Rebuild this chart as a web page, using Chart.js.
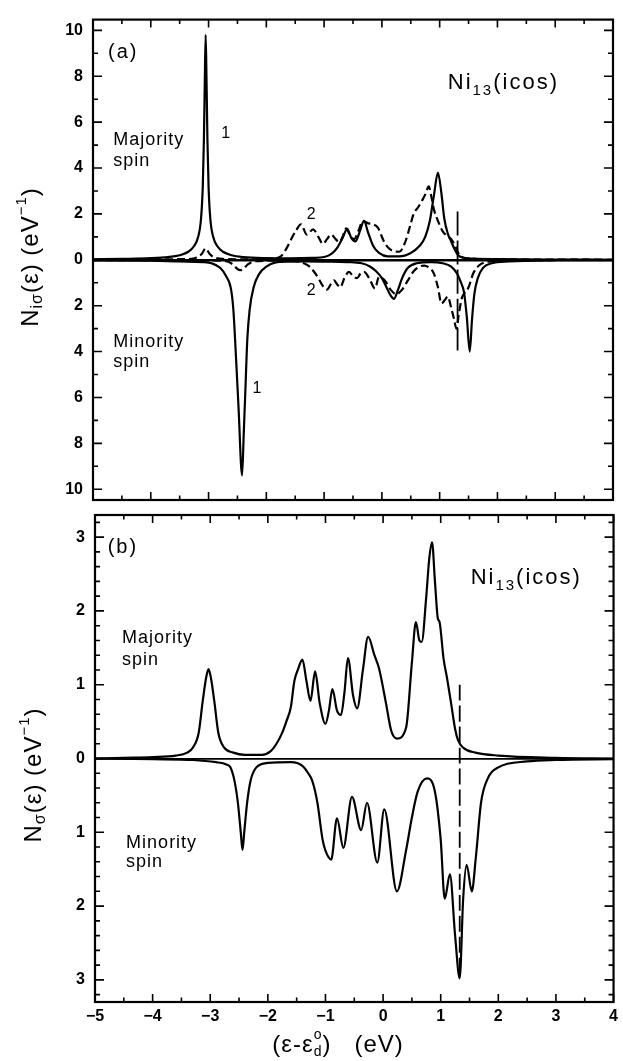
<!DOCTYPE html>
<html>
<head>
<meta charset="utf-8">
<title>Ni13 (icos) local density of states</title>
<script src="https://cdn.jsdelivr.net/npm/chart.js@4.4.1/dist/chart.umd.min.js"></script>
<style>
  html, body { margin: 0; padding: 0; background: #fff; }
  #wrap { position: relative; width: 623px; height: 1061px; }
  #wrap canvas { position: absolute; left: 0; top: 0; }
</style>
</head>
<body>
<div id="wrap">
  <canvas id="chartA" width="623" height="1061"></canvas>
  <canvas id="chartB" width="623" height="1061"></canvas>
</div>
<script>
const FONT = '"Liberation Sans", Arial, Helvetica, sans-serif';

// Energy axis (eV), shared by both panels
const energyMin = -5;
const energyMax = 4;
const energyLabels = [-5, -4, -3, -2, -1, 0, 1, 2, 3, 4];

// Tick labels on the DOS axes (shown as magnitudes)
const yLabelsA = [-10, -8, -6, -4, -2, 0, 2, 4, 6, 8, 10];
const yLabelsB = [-3, -2, -1, 0, 1, 2, 3];

// Panel (a), majority spin, curve 1 (solid)
const aMaj1E = [-5.0, -4.5, -4.0, -3.7, -3.5, -3.35, -3.25, -3.18, -3.13, -3.10, -3.08, -3.065, -3.05, -3.035, -3.02, -3.0, -2.97, -2.92, -2.85, -2.75, -2.6, -2.4, -2.0, -1.6, -1.2, -1.0, -0.88, -0.78, -0.68, -0.6, -0.53, -0.46, -0.38, -0.31, -0.24, -0.15, -0.05, 0.1, 0.3, 0.5, 0.65, 0.75, 0.83, 0.9, 0.97, 1.03, 1.08, 1.14, 1.2, 1.26, 1.32, 1.4, 1.6, 2.0, 3.0, 4.0];
const aMaj1N = [0.02, 0.04, 0.07, 0.12, 0.2, 0.35, 0.6, 1.0, 1.8, 3.2, 5.3, 7.8, 9.8, 7.8, 5.3, 3.2, 1.8, 1.0, 0.6, 0.35, 0.2, 0.12, 0.07, 0.06, 0.08, 0.12, 0.25, 0.5, 0.95, 1.35, 0.95, 0.8, 1.25, 1.7, 1.2, 0.6, 0.3, 0.15, 0.15, 0.3, 0.6, 1.0, 1.7, 2.8, 3.8, 2.9, 1.8, 1.15, 0.8, 0.45, 0.2, 0.1, 0.05, 0.03, 0.01, 0.0];

// Panel (a), majority spin, curve 2 (dashed)
const aMaj2E = [-5.0, -3.4, -3.2, -3.12, -3.05, -2.98, -2.9, -2.7, -2.2, -1.9, -1.75, -1.65, -1.57, -1.48, -1.4, -1.3, -1.19, -1.1, -1.02, -0.95, -0.88, -0.8, -0.74, -0.68, -0.62, -0.54, -0.48, -0.4, -0.33, -0.25, -0.16, -0.07, 0.03, 0.12, 0.2, 0.3, 0.4, 0.48, 0.55, 0.63, 0.7, 0.76, 0.81, 0.86, 0.9, 0.97, 1.05, 1.12, 1.2, 1.27, 1.32, 1.4, 1.6, 2.0, 3.0, 4.0];
const aMaj2N = [0.01, 0.03, 0.1, 0.25, 0.5, 0.25, 0.1, 0.03, 0.02, 0.05, 0.15, 0.5, 0.9, 1.3, 1.55, 1.1, 1.33, 1.0, 0.69, 0.9, 1.1, 0.9, 0.77, 1.0, 1.37, 1.0, 0.9, 1.3, 1.7, 1.6, 1.55, 1.4, 0.83, 0.5, 0.38, 0.35, 0.75, 1.4, 2.0, 2.3, 2.6, 2.9, 3.2, 2.7, 2.2, 1.7, 1.25, 1.05, 0.9, 0.6, 0.3, 0.1, 0.04, 0.02, 0.01, 0.0];

// Panel (a), minority spin, curve 1 (solid), plotted downwards
const aMin1E = [-5.0, -4.0, -3.5, -3.1, -2.95, -2.8, -2.7, -2.61, -2.57, -2.53, -2.48, -2.42, -2.39, -2.36, -2.33, -2.29, -2.22, -2.12, -2.0, -1.85, -1.6, -1.3, -1.0, -0.6, -0.35, -0.2, -0.1, 0.0, 0.08, 0.15, 0.21, 0.28, 0.35, 0.45, 0.6, 0.85, 1.05, 1.2, 1.3, 1.37, 1.42, 1.47, 1.52, 1.56, 1.6, 1.66, 1.75, 1.9, 2.2, 3.0, 4.0];
const aMin1N = [-0.02, -0.04, -0.07, -0.1, -0.15, -0.35, -0.7, -1.3, -2.2, -4.0, -6.5, -9.4, -7.5, -5.5, -3.5, -2.2, -1.2, -0.6, -0.3, -0.12, -0.08, -0.07, -0.08, -0.1, -0.15, -0.3, -0.5, -0.8, -1.2, -1.55, -1.7, -1.3, -0.8, -0.35, -0.15, -0.1, -0.15, -0.3, -0.6, -1.0, -1.4, -2.5, -4.0, -2.6, -1.5, -0.8, -0.35, -0.15, -0.07, -0.02, -0.01];

// Panel (a), minority spin, curve 2 (dashed), plotted downwards
const aMin2E = [-5.0, -3.0, -2.7, -2.58, -2.5, -2.45, -2.4, -2.32, -2.2, -1.8, -1.5, -1.35, -1.25, -1.18, -1.1, -1.02, -0.95, -0.88, -0.83, -0.78, -0.72, -0.65, -0.57, -0.5, -0.43, -0.37, -0.31, -0.22, -0.12, -0.05, 0.05, 0.15, 0.25, 0.35, 0.45, 0.55, 0.65, 0.73, 0.82, 0.9, 0.97, 1.03, 1.09, 1.14, 1.2, 1.25, 1.29, 1.33, 1.38, 1.43, 1.5, 1.58, 1.68, 1.85, 2.2, 3.0, 4.0];
const aMin2N = [-0.01, -0.03, -0.06, -0.2, -0.4, -0.45, -0.4, -0.2, -0.06, -0.04, -0.06, -0.15, -0.3, -0.5, -0.8, -1.15, -1.3, -1.05, -0.9, -1.05, -1.2, -0.8, -0.53, -0.7, -0.8, -0.6, -0.53, -0.8, -1.25, -0.75, -0.9, -1.3, -1.5, -1.3, -0.9, -0.5, -0.3, -0.25, -0.35, -0.6, -1.2, -1.9, -1.75, -1.6, -2.1, -2.6, -3.0, -2.4, -1.7, -1.45, -1.2, -0.6, -0.25, -0.08, -0.03, -0.01, 0.0];

// Panel (b), majority spin total DOS
const bMajE = [-5.0, -4.5, -4.0, -3.6, -3.4, -3.3, -3.2, -3.13, -3.07, -3.03, -2.99, -2.93, -2.86, -2.76, -2.6, -2.4, -2.1, -1.95, -1.85, -1.75, -1.68, -1.6, -1.54, -1.48, -1.4, -1.33, -1.26, -1.18, -1.1, -1.0, -0.94, -0.88, -0.8, -0.73, -0.67, -0.61, -0.52, -0.45, -0.35, -0.26, -0.15, -0.07, 0.05, 0.14, 0.24, 0.4, 0.5, 0.57, 0.63, 0.67, 0.75, 0.8, 0.85, 0.9, 0.95, 0.98, 1.05, 1.11, 1.18, 1.25, 1.3, 1.4, 1.6, 2.0, 3.0, 4.0];
const bMajN = [0.0, 0.01, 0.02, 0.04, 0.08, 0.15, 0.35, 0.78, 1.1, 1.21, 1.1, 0.78, 0.35, 0.15, 0.08, 0.05, 0.05, 0.1, 0.2, 0.35, 0.5, 0.7, 1.05, 1.2, 1.34, 1.05, 0.78, 1.18, 0.75, 0.47, 0.65, 0.94, 0.65, 0.59, 0.9, 1.36, 0.85, 0.68, 1.2, 1.65, 1.4, 1.22, 0.75, 0.38, 0.27, 0.42, 1.3, 1.85, 1.6, 1.58, 2.2, 2.7, 2.93, 2.4, 1.9, 1.85, 1.35, 1.09, 0.75, 0.4, 0.25, 0.14, 0.08, 0.04, 0.01, 0.0];

// Panel (b), minority spin total DOS, plotted downwards
const bMinE = [-5.0, -4.0, -3.3, -2.9, -2.72, -2.65, -2.58, -2.52, -2.47, -2.44, -2.41, -2.36, -2.3, -2.2, -2.0, -1.6, -1.4, -1.3, -1.23, -1.14, -1.05, -1.0, -0.9, -0.8, -0.69, -0.54, -0.38, -0.28, -0.1, 0.02, 0.24, 0.4, 0.5, 0.6, 0.76, 0.9, 1.0, 1.07, 1.16, 1.25, 1.33, 1.39, 1.45, 1.54, 1.61, 1.7, 1.8, 2.0, 2.5, 3.0, 4.0];
const bMinN = [0.0, -0.01, -0.02, -0.05, -0.08, -0.12, -0.3, -0.6, -1.0, -1.24, -1.0, -0.6, -0.3, -0.12, -0.06, -0.05, -0.1, -0.2, -0.3, -0.6, -1.1, -1.25, -1.37, -0.81, -1.21, -0.52, -0.97, -0.6, -1.41, -0.69, -1.8, -1.24, -0.8, -0.45, -0.27, -0.45, -1.1, -1.9, -1.57, -2.4, -2.98, -1.9, -1.44, -1.8, -1.34, -0.6, -0.3, -0.12, -0.04, -0.02, -0.01];

// Fermi level markers (dashed verticals)
const fermiA = { e: [1.31, 1.31], n: [2.1, -3.95] };
const fermiB = { e: [1.33, 1.33], n: [1.0, -2.98] };

const pts = (xs, ys) => xs.map((x, i) => ({ x: x, y: ys[i] }));
const near = (list, v) => list.some(l => Math.abs(l - v) < 1e-6);

function curve(xs, ys, dash, width) {
  return {
    data: pts(xs, ys),
    borderColor: '#000',
    borderWidth: width || 2.2,
    borderDash: dash || [],
    pointRadius: 0,
    fill: false,
    cubicInterpolationMode: 'monotone'
  };
}

// Draw a run of text pieces (for sub/superscripts), optionally rotated
function drawRich(ctx, parts, x, y, align, rot, spacing) {
  ctx.save();
  ctx.translate(x, y);
  if (rot) ctx.rotate(rot);
  ctx.letterSpacing = (spacing || 0) + 'px';
  ctx.textBaseline = 'middle';
  ctx.textAlign = 'left';
  ctx.fillStyle = '#000';
  let w = 0;
  parts.forEach(p => {
    ctx.font = p[1] + 'px ' + FONT;
    if (!p[3]) w += ctx.measureText(p[0]).width;
  });
  let cx = align === 'center' ? -w / 2 : 0;
  parts.forEach(p => {
    ctx.font = p[1] + 'px ' + FONT;
    ctx.fillText(p[0], cx, p[2] || 0);
    if (!p[3]) cx += ctx.measureText(p[0]).width;
  });
  ctx.restore();
}

// Frame with inward ticks on all four sides, labels and axis titles
function makeFrame(cfg) {
  return {
    id: 'frame',
    afterDraw(chart) {
      const { ctx, chartArea: a, scales: { x, y } } = chart;
      ctx.save();
      ctx.strokeStyle = '#000';
      ctx.lineWidth = 2.2;
      ctx.strokeRect(a.left, a.top, a.right - a.left, a.bottom - a.top);
      ctx.lineWidth = 1.6;
      ctx.beginPath();
      x.ticks.forEach(t => {
        const px = x.getPixelForValue(t.value);
        const len = near(energyLabels, t.value) ? 8 : 4.5;
        ctx.moveTo(px, a.bottom); ctx.lineTo(px, a.bottom - len);
        ctx.moveTo(px, a.top); ctx.lineTo(px, a.top + len);
      });
      // minor steps between the labelled ticks
      const n = Math.round(1 / cfg.minorStep);
      const lo = Math.ceil(y.min / cfg.minorStep);
      const hi = Math.floor(y.max / cfg.minorStep);
      for (let k = lo; k <= hi; k++) {
        const v = k / n;
        const py = y.getPixelForValue(v);
        const len = near(cfg.yLabels, v) ? 9 : 5;
        ctx.moveTo(a.left, py); ctx.lineTo(a.left + len, py);
        ctx.moveTo(a.right, py); ctx.lineTo(a.right - len, py);
      }
      ctx.stroke();
      ctx.restore();

      cfg.notes.forEach(nt => {
        drawRich(ctx, nt.parts, x.getPixelForValue(nt.x), y.getPixelForValue(nt.y), 'left', 0, nt.sp || 1);
      });
      drawRich(ctx, cfg.yTitle, cfg.yTitlePos[0], cfg.yTitlePos[1], 'center', -Math.PI / 2, 1);
      if (cfg.xTitle) drawRich(ctx, cfg.xTitle, cfg.xTitlePos[0], cfg.xTitlePos[1], 'center', 0, 1);
    }
  };
}

function makePanel(id, cfg) {
  return new Chart(document.getElementById(id), {
    type: 'line',
    data: { datasets: cfg.datasets },
    options: {
      responsive: false,
      maintainAspectRatio: false,
      animation: false,
      events: [],
      layout: { padding: cfg.padding },
      plugins: { legend: { display: false }, tooltip: { enabled: false } },
      scales: {
        x: {
          type: 'linear',
          min: energyMin,
          max: energyMax,
          grid: { display: false, drawTicks: false },
          border: { display: false },
          ticks: {
            display: cfg.showX,
            stepSize: 0.5,
            includeBounds: false,
            autoSkip: false,
            maxRotation: 0,
            padding: 5,
            color: '#000',
            font: { family: FONT, size: 16, weight: 'bold' },
            callback: v => near(energyLabels, v) ? (v < 0 ? '\u2212' + Math.abs(v) : String(v)) : ''
          },
          afterFit: s => { s.height = cfg.showX ? 30 : 0; }
        },
        y: {
          type: 'linear',
          min: cfg.yMin,
          max: cfg.yMax,
          grid: {
            drawTicks: false,
            color: c => (c.tick && Math.abs(c.tick.value) < 1e-6) ? '#000' : 'rgba(0,0,0,0)',
            lineWidth: c => (c.tick && Math.abs(c.tick.value) < 1e-6) ? cfg.zeroWidth : 0
          },
          border: { display: false },
          ticks: {
            stepSize: 1,
            includeBounds: false,
            autoSkip: false,
            padding: 10,
            color: '#000',
            font: { family: FONT, size: 16, weight: 'bold' },
            callback: v => near(cfg.yLabels, v) ? String(Math.abs(Math.round(v))) : ''
          },
          afterFit: s => { s.width = cfg.yWidth; }
        }
      }
    },
    plugins: [makeFrame(cfg)]
  });
}

// Panel (a): local DOS of central atom (1) and surface atom (2)
makePanel('chartA', {
  padding: { top: 12, left: 0, right: 10, bottom: 561 },
  yWidth: 93,
  showX: false,
  yMin: -10.47, yMax: 10.47, minorStep: 1,
  yLabels: yLabelsA,
  zeroWidth: 2.6,
  datasets: [
    curve(aMaj1E, aMaj1N),
    curve(aMaj2E, aMaj2N, [8, 4]),
    curve(aMin1E, aMin1N),
    curve(aMin2E, aMin2N, [8, 4]),
    curve(fermiA.e, fermiA.n, [24, 5], 1.8)
  ],
  notes: [
    { x: -4.74, y: 9.05, parts: [['(a)', 20]], sp: 2 },
    { x: -4.65, y: 5.2, parts: [['Majority', 18]] },
    { x: -4.65, y: 4.3, parts: [['spin', 18]] },
    { x: -4.65, y: -3.6, parts: [['Minority', 18]] },
    { x: -4.65, y: -4.45, parts: [['spin', 18]] },
    { x: 1.14, y: 7.7, parts: [['Ni', 22], ['13', 15, 8], ['(icos)', 22]], sp: 2 },
    { x: -2.78, y: 5.5, parts: [['1', 16]] },
    { x: -1.3, y: 1.95, parts: [['2', 16]] },
    { x: -1.3, y: -1.33, parts: [['2', 16]] },
    { x: -2.24, y: -5.6, parts: [['1', 16]] }
  ],
  yTitle: [['N', 24], ['i\u03c3', 16, 7], ['(\u03b5) (eV', 24], ['\u22121', 15, -9], [')', 24]],
  yTitlePos: [31, 257]
});

// Panel (b): total DOS
makePanel('chartB', {
  padding: { top: 515, left: 0, right: 8, bottom: 29 },
  yWidth: 95,
  showX: true,
  yMin: -3.3, yMax: 3.3, minorStep: 0.2,
  yLabels: yLabelsB,
  zeroWidth: 1.8,
  datasets: [
    curve(bMajE, bMajN),
    curve(bMinE, bMinN),
    curve(fermiB.e, fermiB.n, [16, 5], 1.8)
  ],
  notes: [
    { x: -4.78, y: 2.86, parts: [['(b)', 20]], sp: 2 },
    { x: -4.53, y: 1.63, parts: [['Majority', 18]] },
    { x: -4.53, y: 1.33, parts: [['spin', 18]] },
    { x: -4.46, y: -1.14, parts: [['Minority', 18]] },
    { x: -4.46, y: -1.4, parts: [['spin', 18]] },
    { x: 1.52, y: 2.45, parts: [['Ni', 22], ['13', 15, 8], ['(icos)', 22]], sp: 2 }
  ],
  yTitle: [['N', 24], ['\u03c3', 16, 7], ['(\u03b5) (eV', 24], ['\u22121', 15, -9], [')', 24]],
  yTitlePos: [34, 775],
  xTitle: [['(\u03b5-\u03b5', 24], ['o', 14, -10, true], ['d', 14, 7], [')   (eV)', 24]],
  xTitlePos: [338, 1045]
});
</script>
</body>
</html>
